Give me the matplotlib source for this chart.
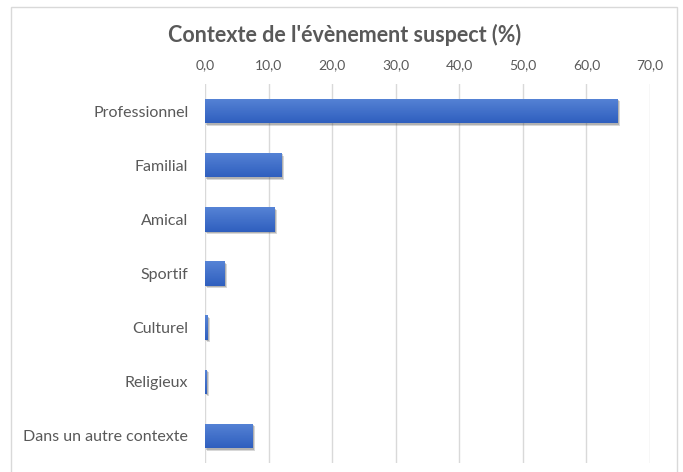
import matplotlib.pyplot as plt
import matplotlib.patheffects as pe
import numpy as np
from matplotlib.patches import Rectangle
from matplotlib.colors import LinearSegmentedColormap
from matplotlib.ticker import FuncFormatter

contextes = ['Professionnel', 'Familial', 'Amical', 'Sportif', 'Culturel',
             'Religieux', 'Dans un autre contexte']
pourcentages = [64.9, 12.1, 10.9, 3.1, 0.4, 0.3, 7.5]

plt.rcParams['font.family'] = ['Lato', 'DejaVu Sans']
gris = '#595959'

fig = plt.figure(figsize=(6.83, 4.72), dpi=100)
ax = fig.add_axes([0.3001, 0.019, 0.6515, 0.803])

y = np.arange(len(contextes))
bars = ax.barh(y, pourcentages, height=0.45, color='#3c6cc8', zorder=2,
               path_effects=[pe.SimplePatchShadow(offset=(1.8, -1.8), shadow_rgbFace='#404040', alpha=0.2),
                             pe.SimplePatchShadow(offset=(1.0, -1.0), shadow_rgbFace='#404040', alpha=0.25),
                             pe.Normal()])

# degrade vertical dans chaque barre
degrade = LinearSegmentedColormap.from_list('bleu', ['#5683d6', '#2f5fbe'])
grad = np.linspace(0, 1, 64).reshape(-1, 1)
for b in bars:
    x0, y0 = b.get_x(), b.get_y()
    w, h = b.get_width(), b.get_height()
    im = ax.imshow(grad, cmap=degrade, aspect='auto', zorder=3,
                   extent=(x0, x0 + w, y0 + h, y0), origin='upper')
    im.set_clip_path(b)

ax.set_xlim(0, 70)
ax.set_ylim(len(contextes) - 0.5, -0.5)
ax.set_xticks(np.arange(0, 71, 10))
ax.xaxis.set_major_formatter(FuncFormatter(lambda v, p: f'{v:.1f}'.replace('.', ',')))
ax.xaxis.tick_top()
ax.tick_params(axis='x', length=0, pad=9, labelsize=10, labelcolor=gris)
ax.tick_params(axis='y', length=0, pad=12, labelsize=11.5, labelcolor=gris)
ax.set_yticks(y)
ax.set_yticklabels(contextes)
ax.grid(axis='x', color='#d9d9d9', linewidth=1, zorder=0)
ax.set_axisbelow(True)
for s in ax.spines.values():
    s.set_visible(False)

fig.text(0.504, 0.925, "Contexte de l'évènement suspect (%)", ha='center', va='center',
         fontsize=15.5, fontweight='bold', color=gris)

fig.patches.append(Rectangle((11 / 683, -0.02), 666 / 683, 0.005 + 1 - 7 / 472 + 0.015,
                             transform=fig.transFigure, fill=False,
                             edgecolor='#d9d9d9', linewidth=1))

fig.savefig('out.png', dpi=100)
